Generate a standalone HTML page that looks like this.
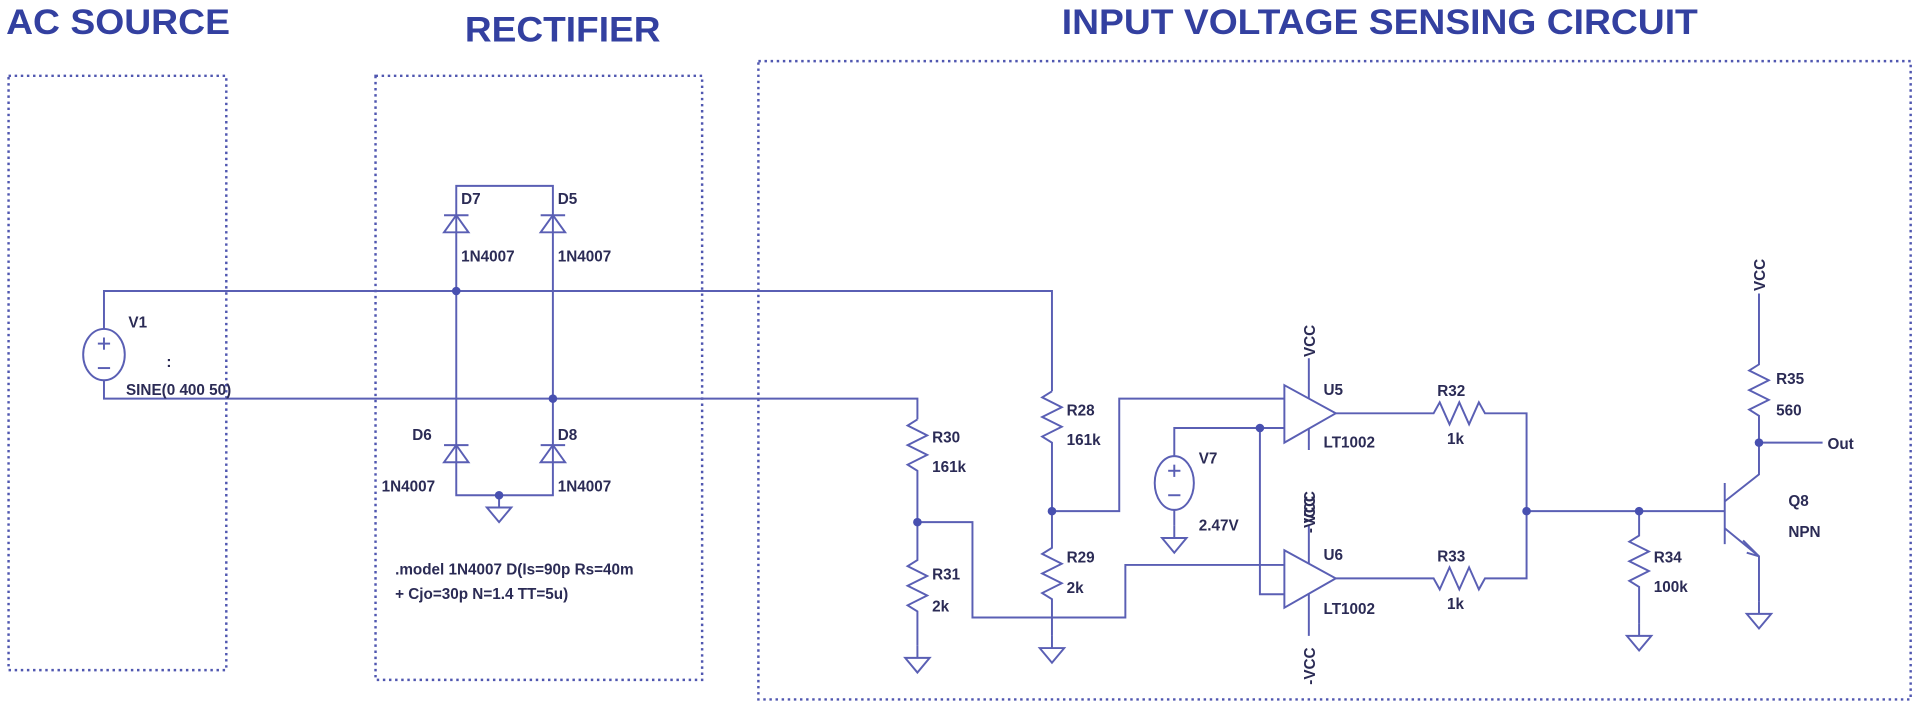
<!DOCTYPE html>
<html><head><style>
html,body{margin:0;padding:0;background:#fff;}
svg{display:block;}
text{font-family:"Liberation Sans",sans-serif;font-weight:bold;fill:#2b2b55;font-size:12.5px;}
.t{fill:#3340a0;font-size:29px;}
</style></head><body>
<svg width="1918" height="708" viewBox="0 0 1568 579" preserveAspectRatio="none" xmlns="http://www.w3.org/2000/svg">
<defs>
<g id="gnd"><line x1="0" y1="0" x2="0" y2="10" /><path d="M-10,10 H10 L0,22 Z" fill="none"/></g>
</defs>
<text class="t" x="5" y="28" textLength="183" lengthAdjust="spacingAndGlyphs">AC SOURCE</text>
<text class="t" x="380" y="34" textLength="160" lengthAdjust="spacingAndGlyphs">RECTIFIER</text>
<text class="t" x="868" y="28" textLength="520" lengthAdjust="spacingAndGlyphs">INPUT VOLTAGE SENSING CIRCUIT</text>
<g fill="none" stroke="#5057b0" stroke-width="2" stroke-dasharray="2,3">
<rect x="7" y="62" width="178" height="486"/>
<rect x="307" y="62" width="267" height="494"/>
<rect x="620" y="50" width="942" height="522"/>
</g>
<g fill="none" stroke="#5a5fb4" stroke-width="1.6">
<ellipse cx="85" cy="290" rx="17" ry="21"/>
<path d="M85,269 V238 H860 V320"/>
<path d="M85,311 V326 H750 V343"/>
<line x1="80" y1="281" x2="90" y2="281"/><line x1="85" y1="276" x2="85" y2="286"/>
<line x1="80" y1="301" x2="90" y2="301"/>
<path d="M373,175 V152 H452 V175"/>
<path d="M373,190 V405 H452 V190"/>
<path d="M373,175 V190"/><path d="M452,175 V190"/>
<path d="M363,176 H383 M363,190 H383 L373,176 Z"/>
<path d="M442,176 H462 M442,190 H462 L452,176 Z"/>
<path d="M363,364 H383 M363,378 H383 L373,364 Z"/>
<path d="M442,364 H462 M442,378 H462 L452,364 Z"/>
<use href="#gnd" x="408" y="405"/>
<path d="M750,343 l-8,5 16,8 -16,8 16,8 -16,8 8,5 V458 l-8,5 16,8 -16,8 16,8 -16,8 8,5 V528"/>
<use href="#gnd" x="750" y="528"/>
<path d="M750,427 H795 V505 H920 V462 H1050"/>
<path d="M860,320 l-8,5 16,8 -16,8 16,8 -16,8 8,5 V448 l-8,5 16,8 -16,8 16,8 -16,8 8,5 V520"/>
<use href="#gnd" x="860" y="520"/>
<path d="M860,418 H915 V326 H1050"/>
<ellipse cx="960" cy="395" rx="16" ry="22"/>
<line x1="955" y1="385" x2="965" y2="385"/><line x1="960" y1="380" x2="960" y2="390"/>
<line x1="955" y1="405" x2="965" y2="405"/>
<path d="M960,373 V350 H1050"/>
<path d="M960,417 V430"/><use href="#gnd" x="960" y="430"/>
<path d="M1030,350 V486 H1050"/>
<path d="M1050,315 L1092,338 L1050,362 Z"/>
<path d="M1050,450 L1092,473 L1050,497 Z"/>
<path d="M1070,293 V326 M1070,350 V368 M1070,430 V461 M1070,485 V520"/>
<path d="M1092,338 H1172 l5,-9 8,18 8,-18 8,18 8,-18 5,9 H1248 V473 H1214 l-5,9 -8,-18 -8,18 -8,-18 -8,18 -5,-9 H1092"/>
<path d="M1248,418 H1410"/>
<path d="M1340,418 V438 l-8,5 16,8 -16,8 16,8 -16,8 8,5 V510"/>
<use href="#gnd" x="1340" y="510"/>
<path d="M1410,395 V445"/>
<path d="M1410,410 L1438,388 V362 H1490"/>
<path d="M1410,432 L1438,455 V492"/>
<path d="M1425,442 L1438,455 L1428,452"/>
<use href="#gnd" x="1438" y="492"/>
<path d="M1438,240 V298 l-8,5 16,8 -16,8 16,8 -16,8 8,5 V362"/>
</g>
<g fill="#4850b0">
<circle cx="373" cy="238" r="3.5"/><circle cx="452" cy="326" r="3.5"/><circle cx="408" cy="405" r="3.5"/>
<circle cx="750" cy="427" r="3.5"/><circle cx="860" cy="418" r="3.5"/><circle cx="1030" cy="350" r="3.5"/>
<circle cx="1248" cy="418" r="3.5"/><circle cx="1340" cy="418" r="3.5"/><circle cx="1438" cy="362" r="3.5"/>
</g>
<text x="105" y="268">V1</text><text x="136" y="300">:</text>
<text x="103" y="323">SINE(0 400 50)</text>
<text x="377" y="167">D7</text><text x="456" y="167">D5</text>
<text x="377" y="214">1N4007</text><text x="456" y="214">1N4007</text>
<text x="337" y="360">D6</text><text x="456" y="360">D8</text>
<text x="312" y="402">1N4007</text><text x="456" y="402">1N4007</text>
<text x="323" y="470">.model 1N4007 D(Is=90p Rs=40m</text>
<text x="323" y="490">+  Cjo=30p N=1.4 TT=5u)</text>
<text x="762" y="362">R30</text><text x="762" y="386">161k</text>
<text x="762" y="474">R31</text><text x="762" y="500">2k</text>
<text x="872" y="340">R28</text><text x="872" y="364">161k</text>
<text x="872" y="460">R29</text><text x="872" y="485">2k</text>
<text x="980" y="379">V7</text><text x="980" y="434">2.47V</text>
<text x="1082" y="323">U5</text><text x="1082" y="366">LT1002</text>
<text x="1082" y="458">U6</text><text x="1082" y="502">LT1002</text>
<text x="1175" y="324">R32</text><text x="1183" y="363">1k</text>
<text x="1175" y="459">R33</text><text x="1183" y="498">1k</text>
<text x="1352" y="460">R34</text><text x="1352" y="484">100k</text>
<text x="1452" y="314">R35</text><text x="1452" y="340">560</text>
<text x="1462" y="414">Q8</text><text x="1462" y="439">NPN</text>
<text x="1494" y="367">Out</text>
<text transform="translate(1075,292) rotate(-90)">VCC</text>
<text transform="translate(1075,428) rotate(-90)">VCC</text>
<text transform="translate(1075,436) rotate(-90)">-VCC</text>
<text transform="translate(1075,560) rotate(-90)">-VCC</text>
<text transform="translate(1443,238) rotate(-90)">VCC</text>
</svg>
</body></html>
